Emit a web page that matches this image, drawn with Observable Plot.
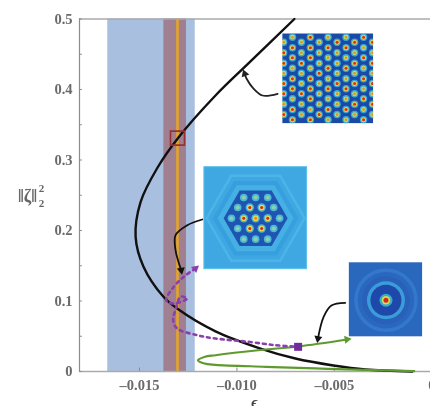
<!DOCTYPE html>
<html>
<head>
<meta charset="utf-8">
<style>html,body{margin:0;padding:0;background:#fff;overflow:hidden;width:430px;height:406px}</style>
<script src="https://cdn.jsdelivr.net/npm/d3@7"></script>
<script src="https://cdn.jsdelivr.net/npm/@observablehq/plot@0.6"></script>
</head>
<body>
<script>
const xDomain = [-0.01808, 0.0005];
const yDomain = [0, 0.5];
const xTicks = [-0.015, -0.01, -0.005, 0];
const yTicks = [0, 0.1, 0.2, 0.3, 0.4, 0.5];
const yMinorTicks = [0.05, 0.15, 0.25, 0.35, 0.45];

const blueBand = [-0.01663, -0.01214];
const redBand = [-0.01375, -0.01259];
const orangeLine = [-0.01305];

const blackX = [-0.00705, -0.00941, -0.0111, -0.013, -0.01408, -0.01495, -0.0152, -0.0148, -0.01377, -0.01305, -0.0111, -0.00879, -0.007, -0.00505, -0.00341, -0.001];
const blackY = [0.5, 0.437, 0.3915, 0.332, 0.289, 0.24, 0.191, 0.149, 0.106, 0.089, 0.057, 0.0326, 0.0184, 0.0085, 0.0028, 0];

const purpleX = [-0.01213, -0.01273, -0.01324, -0.01363, -0.01324, -0.01255, -0.0129, -0.0131, -0.01327, -0.01307, -0.01204, -0.0111, -0.0094, -0.00803, -0.00686];
const purpleY = [0.1461, 0.1343, 0.1201, 0.1011, 0.0965, 0.1035, 0.106, 0.0917, 0.0728, 0.061, 0.0515, 0.0468, 0.0421, 0.0373, 0.035];

const greenX = [-0.0009, -0.00341, -0.00597, -0.00854, -0.0111, -0.01167, -0.012, -0.01167, -0.0111, -0.00879, -0.00686, -0.00435];
const greenY = [0.0004, 0.0024, 0.0043, 0.0067, 0.0095, 0.0113, 0.016, 0.0206, 0.0231, 0.0305, 0.0355, 0.0454];

const arrow1X = [-0.00791, -0.00869, -0.00915, -0.00951, -0.0096];
const arrow1Y = [0.3939, 0.3915, 0.4014, 0.4156, 0.4223];
const arrow2X = [-0.01178, -0.01255, -0.01315, -0.01315, -0.01286];
const arrow2Y = [0.2156, 0.2075, 0.1933, 0.1721, 0.1437];
const arrow3X = [-0.00444, -0.00515, -0.00555, -0.00584];
const arrow3Y = [0.0974, 0.0936, 0.0776, 0.0468];

// lattice inset
const latticeX = [-0.0076, -0.00715, -0.00669, -0.00623, -0.00578, -0.00532, -0.00486, -0.0044, -0.00396, -0.0035, -0.00304];
const latticeEvenY = [0.4742, 0.4592, 0.445, 0.4302, 0.4152, 0.401, 0.3868, 0.3716, 0.357];
const latticeOddY = [0.4671, 0.4521, 0.4373, 0.4231, 0.4085, 0.3939, 0.3792, 0.3645];
const latticeHeat = ["12212212", "122122122", "11211211", "222122212", "11121112", "121212121", "21112111", "121212121", "21212121", "212121212", "21212121"];

// hexagon-cluster inset
const clusterRedX = [-0.00934, -0.00873, -0.00965, -0.00842, -0.00934, -0.00873];
const clusterRedY = [0.2326, 0.2326, 0.2174, 0.2174, 0.2028, 0.2028];
const clusterPaleX = [-0.00965, -0.00904, -0.00842, -0.00996, -0.00811, -0.01028, -0.00781, -0.00996, -0.00811, -0.00965, -0.00904, -0.00842];
const clusterPaleY = [0.2468, 0.2468, 0.2468, 0.2326, 0.2326, 0.2174, 0.2174, 0.2028, 0.2028, 0.1877, 0.1877, 0.1877];
const clusterCentre = [[-0.00904, 0.2174]];

// ring inset
const ringCentre = [[-0.00235, 0.1011]];

const zip = (xs, ys) => xs.map((x, i) => [x, ys[i]]);
const lattice = latticeX.flatMap((x, i) => (i % 2 ? latticeEvenY : latticeOddY).map((y, j) => ({x, y, heat: +latticeHeat[i][j]})));
const latHot = lattice.filter(d => d.heat === 2), latCool = lattice.filter(d => d.heat === 1);
const latXY = {x: "x", y: "y"};

const hexagon = {draw(ctx, size) {
  const r = Math.sqrt(size / Math.PI);
  for (let i = 0; i < 6; i++) {
    const a = i * Math.PI / 3;
    i ? ctx.lineTo(r * Math.cos(a), r * Math.sin(a)) : ctx.moveTo(r * Math.cos(a), r * Math.sin(a));
  }
  ctx.closePath();
}};
const sq = (side) => side / Math.sqrt(Math.PI);
const head = (pts, rotate, fill, r = 3) => Plot.dot(pts, {x: "0", y: "1", symbol: "triangle", r, rotate, fill, stroke: "none"});
const box = (x1, x2, y1, y2, fill, extra = {}) => Plot.rect([[x1, x2, y1, y2]], {x1: "0", x2: "1", y1: "2", y2: "3", fill, ...extra});
const inset = (pts, r, o) => Plot.dot(pts, {x: "0", y: "1", r, stroke: "none", ...o});
const serif = "'Liberation Serif', serif";

const chart = Plot.plot({
  width: 441, height: 406,
  marginLeft: 79, marginRight: 0, marginTop: 18.5, marginBottom: 35,
  x: {domain: xDomain},
  y: {domain: yDomain},
  style: {maxWidth: "none", display: "block", fontFamily: serif, background: "#fff", filter: "blur(0.6px)"},
  marks: [
    box(blueBand[0], blueBand[1], 0, 0.5, "#a8bfe0"),
    box(redBand[0], redBand[1], 0, 0.5, "#a07f90"),
    Plot.ruleX(orangeLine, {stroke: "#e6a526", strokeWidth: 2.6}),

    Plot.ruleY([0, 0.5], {stroke: "#aaaaaa", strokeWidth: 1.4}),
    Plot.ruleX([xDomain[0]], {stroke: "#8c8c8c", strokeWidth: 1.2}),
    Plot.ruleX(xTicks, {y1: 0, y2: 0.005, stroke: "#8c8c8c"}),
    Plot.ruleY(yTicks.concat(yMinorTicks), {x1: xDomain[0], x2: xDomain[0] + 0.00015, stroke: "#8c8c8c"}),
    Plot.axisX({ticks: xTicks, tickSize: 0, tickPadding: 8, fontSize: 14.5, fill: "#6a6a6a", label: null, fontWeight: "bold",
      tickFormat: d => d === 0 ? "0" : "–" + Math.abs(d).toFixed(3)}),
    Plot.axisY({ticks: yTicks, tickSize: 0, tickPadding: 7, fontSize: 14.5, fill: "#6a6a6a", label: null, fontWeight: "bold",
      tickFormat: d => d === 0 ? "0" : d.toFixed(1)}),
    Plot.text(["ϵ"], {x: -0.0091, y: -0.043, fontSize: 15, fontStyle: "italic", fontWeight: "bold", fill: "#444"}),
    Plot.text(["‖ζ‖"], {x: xDomain[0], y: 0.2482, dx: -52, fontSize: 18, fontWeight: "bold", fill: "#666"}),
    Plot.text(["2"], {x: xDomain[0], y: 0.2596, dx: -38, fontSize: 11, fontWeight: "bold", fill: "#666"}),
    Plot.text(["2"], {x: xDomain[0], y: 0.2383, dx: -38, fontSize: 11, fontWeight: "bold", fill: "#666"}),

    // lattice inset
    box(-0.00765, -0.00298, 0.3513, 0.479, "#1a4aa6"),
    Plot.dot(latHot, {...latXY, r: 3.7, fill: "#38a8d8"}),
    Plot.dot(latCool, {...latXY, r: 3.7, fill: "#38a8d8"}),
    Plot.dot(latHot, {...latXY, r: 2.5, fill: "#ecd040"}),
    Plot.dot(latCool, {...latXY, r: 2.4, fill: "#c8da62"}),
    Plot.dot(latHot, {...latXY, r: 1.5, fill: "#d8321e"}),
    Plot.dot(latCool, {...latXY, r: 1.3, fill: "#d89030"}),
    box(-0.0079, -0.00765, 0.34, 0.49, "#fff"),
    box(-0.00298, -0.0027, 0.34, 0.49, "#fff"),
    box(-0.0079, -0.0027, 0.479, 0.488, "#fff"),
    box(-0.0079, -0.0027, 0.343, 0.3513, "#fff"),

    // cluster inset
    box(-0.01167, -0.0064, 0.1451, 0.2898, "#3fa8e2", {stroke: "#5cc0ea", strokeWidth: 1}),
    inset(clusterCentre, 49, {symbol: hexagon, fill: "none", stroke: "#4cb4e8", strokeWidth: 2.5}),
    inset(clusterCentre, 43, {symbol: hexagon, fill: "#379fde"}),
    inset(clusterCentre, 38, {symbol: hexagon, fill: "#45b0e4"}),
    inset(clusterCentre, 32, {symbol: hexagon, fill: "#1f55b0"}),
    inset(zip(clusterPaleX, clusterPaleY), 3.8, {fill: "#4ab8dc"}),
    inset(zip(clusterPaleX, clusterPaleY), 2.1, {fill: "#8ad0a8"}),
    inset(zip(clusterRedX, clusterRedY), 4.2, {fill: "#4ab8d0"}),
    inset(zip(clusterRedX, clusterRedY), 2.8, {fill: "#e8d850"}),
    inset(zip(clusterRedX, clusterRedY), 1.5, {fill: "#cc2a1c"}),
    inset(clusterCentre, 4.2, {fill: "#4ab8d0"}),
    inset(clusterCentre, 2.8, {fill: "#e8d850"}),
    inset(clusterCentre, 1.5, {fill: "#e88a28"}),

    // ring inset
    box(-0.00423, -0.00047, 0.0492, 0.1542, "#2a68be"),
    inset(ringCentre, 30, {fill: "none", stroke: "#3378cc", strokeWidth: 3.5}),
    inset(ringCentre, 24, {fill: "#2860ba"}),
    inset(ringCentre, 19, {fill: "#3a9cd8"}),
    inset(ringCentre, 15.5, {fill: "#1f48ab"}),
    inset(ringCentre, 6.5, {fill: "#38aec8"}),
    inset(ringCentre, 4.2, {fill: "#d8dc50"}),
    inset(ringCentre, 2.5, {fill: "#d62a1c"}),

    // curves
    Plot.line(zip(blackX, blackY), {x: "0", y: "1", stroke: "#111", strokeWidth: 2.4, curve: "catmull-rom"}),
    Plot.line(zip(greenX, greenY), {x: "0", y: "1", stroke: "#5f9a2e", strokeWidth: 2.2, curve: "catmull-rom"}),
    head(zip(greenX, greenY).slice(-1), 82, "#5f9a2e"),
    Plot.line(zip(purpleX, purpleY), {x: "0", y: "1", stroke: "#8a40ac", strokeWidth: 2.6, strokeDasharray: "3 4", curve: "catmull-rom"}),
    head(zip(purpleX, purpleY).slice(0, 1), 50, "#8a40ac"),
    Plot.dot(zip([purpleX[14]], [purpleY[14]]), {x: "0", y: "1", symbol: "square", r: sq(8), fill: "#6f2d9c"}),
    Plot.dot(zip([-0.01305], [0.331]), {x: "0", y: "1", symbol: "square", r: sq(14), fill: "none", stroke: "#9b3030", strokeWidth: 1.6}),

    // annotation arrows
    Plot.line(zip(arrow1X, arrow1Y), {x: "0", y: "1", stroke: "#222", strokeWidth: 1.8, curve: "catmull-rom"}),
    head(zip(arrow1X, arrow1Y).slice(-1), -20, "#222"),
    Plot.line(zip(arrow2X, arrow2Y), {x: "0", y: "1", stroke: "#111", strokeWidth: 1.8, curve: "catmull-rom"}),
    head(zip(arrow2X, arrow2Y).slice(-1), 170, "#111"),
    Plot.line(zip(arrow3X, arrow3Y), {x: "0", y: "1", stroke: "#111", strokeWidth: 1.8, curve: "catmull-rom"}),
    head(zip(arrow3X, arrow3Y).slice(-1), 190, "#111")
  ]
});
document.body.append(chart);
</script>
</body>
</html>
